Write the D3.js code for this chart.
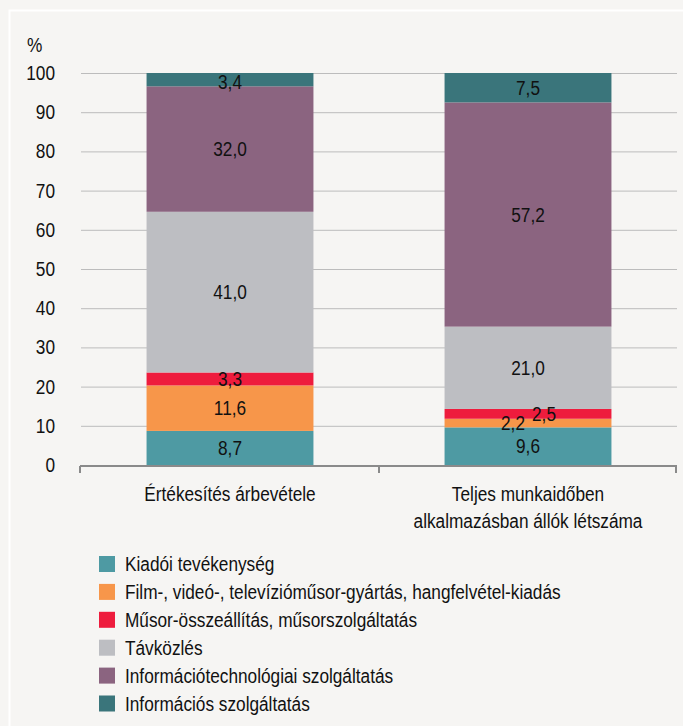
<!DOCTYPE html>
<html><head><meta charset="utf-8">
<script src="https://cdn.jsdelivr.net/npm/d3@7"></script>
<style>
html,body{margin:0;padding:0;background:#f6f5f3;}
svg{display:block;}
text{font-family:"Liberation Sans",Arial,sans-serif;fill:#111;}
</style></head>
<body>
<script>
const categories = ["Értékesítés árbevétele", "Teljes munkaidőben\nalkalmazásban állók létszáma"];
const seriesNames = ["Kiadói tevékenység", "Film-, videó-, televízióműsor-gyártás, hangfelvétel-kiadás", "Műsor-összeállítás, műsorszolgáltatás", "Távközlés", "Információtechnológiai szolgáltatás", "Információs szolgáltatás"];
const kiadoi = [8.7, 9.6];
const film = [11.6, 2.2];
const musor = [3.3, 2.5];
const tavkozles = [41.0, 21.0];
const infotech = [32.0, 57.2];
const informacios = [3.4, 7.5];
const yTicks = [0, 10, 20, 30, 40, 50, 60, 70, 80, 90, 100];
const colors = ["#4e9aa3", "#f7964a", "#ee1c3d", "#bdbec2", "#8b6480", "#3a757b"];

const W = 683, H = 726;
const FS = 20, SX = 0.862;
const svg = d3.select("body").append("svg").attr("width", W).attr("height", H);
svg.append("rect").attr("x", 0).attr("y", 0).attr("width", W).attr("height", H).attr("fill", "#f6f5f3");
svg.append("rect").attr("x", 9.5).attr("y", 10.5).attr("width", W + 10).attr("height", H + 10)
  .attr("fill", "none").attr("stroke", "#ffffff").attr("stroke-width", 2);

function addText(parent, x, y, str, anchor) {
  return parent.append("text")
    .attr("transform", `translate(${x},${y}) scale(${SX},1)`)
    .attr("dy", "0.35em").attr("text-anchor", anchor || "start")
    .style("font-size", FS + "px").text(str);
}

const seriesVals = [kiadoi, film, musor, tavkozles, infotech, informacios];
const rows = categories.map((c, i) => {
  const o = {cat: c};
  seriesNames.forEach((s, j) => o[s] = seriesVals[j][i]);
  return o;
});
const stack = d3.stack().keys(seriesNames)(rows);

const x = d3.scaleBand().domain(categories).range([81, 677]).paddingInner(0.44).paddingOuter(0.22);
const y = d3.scaleLinear().domain([0, 100]).range([465, 73]);

// gridlines
svg.append("g").selectAll("line").data(yTicks.filter(t => t > 0)).join("line")
  .attr("x1", 81).attr("x2", 677).attr("y1", d => y(d) + 0.5).attr("y2", d => y(d) + 0.5)
  .attr("stroke", "#bcbcbc").attr("stroke-width", 1);

// y tick labels
const yl = svg.append("g");
yTicks.forEach(t => addText(yl, 55, y(t), String(t), "end"));
addText(svg, 27, 45, "%", "start");

// bars
const g = svg.append("g");
stack.forEach((layer, j) => {
  g.selectAll(null).data(layer).join("rect")
    .attr("x", d => x(d.data.cat)).attr("width", x.bandwidth())
    .attr("y", d => y(d[1])).attr("height", d => y(d[0]) - y(d[1]))
    .attr("fill", colors[j]);
});

// axis
const axisG = svg.append("g").attr("transform", "translate(0,466)");
axisG.append("line").attr("x1", 80).attr("x2", 677).attr("y1", 0).attr("y2", 0).attr("stroke", "#8a8a8a").attr("stroke-width", 2);
const bounds = [80, (x(categories[0]) + x.bandwidth() + x(categories[1])) / 2, 676];
axisG.selectAll("line.tk").data(bounds).join("line").attr("class", "tk")
  .attr("x1", d => d).attr("x2", d => d).attr("y1", 0).attr("y2", 7)
  .attr("stroke", "#8a8a8a").attr("stroke-width", 2);

// value labels
const fmt = v => v.toFixed(1).replace(".", ",");
const labelDx = {"1-1": -15, "1-2": 16};
const labelDy = {"0-5": 2};
const vl = svg.append("g");
stack.forEach((layer, j) => {
  layer.forEach((d, i) => {
    const key = i + "-" + j;
    addText(vl, x(d.data.cat) + x.bandwidth() / 2 + (labelDx[key] || 0),
      y((d[0] + d[1]) / 2) + (labelDy[key] || 0), fmt(d[1] - d[0]), "middle");
  });
});

// category labels
categories.forEach(c => {
  c.split("\n").forEach((ln, k) => addText(svg, x(c) + x.bandwidth() / 2, 494 + k * 27, ln, "middle"));
});

// legend
const leg = svg.append("g");
seriesNames.forEach((s, j) => {
  const yy = 564 + j * 27.9;
  leg.append("rect").attr("x", 99).attr("y", yy - 8).attr("width", 16).attr("height", 16).attr("fill", colors[j]);
  addText(leg, 125, yy, s, "start");
});
</script>
</body></html>
